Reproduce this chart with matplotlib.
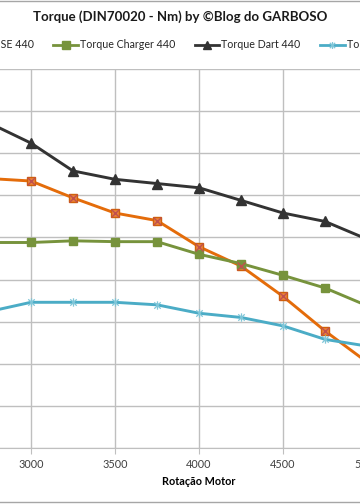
import numpy as np
import matplotlib
matplotlib.use("Agg")
import matplotlib.pyplot as plt
from matplotlib.path import Path
from matplotlib.lines import Line2D

plt.rcParams['font.family'] = ['Lato', 'DejaVu Sans']

# data
rpm = [2750, 3000, 3250, 3500, 3750, 4000, 4250, 4500, 4750, 5000]
torque_se = [620, 617, 597, 579, 570, 539, 516, 480, 439, 402]
torque_charger = [544, 544, 546, 545, 545, 530, 519, 505, 490, 469]
torque_dart = [686, 662, 629, 619, 614, 609, 594, 579, 569, 548]
torque_rt = [462, 473, 473, 473, 470, 460, 455, 445, 429, 421]

labels = ['Torque SE 440', 'Torque Charger 440', 'Torque Dart 440', 'Torque R/T 440']
x_ticks = [3000, 3500, 4000, 4500, 5000]
y_ticks = [300, 350, 400, 450, 500, 550, 600, 650, 700, 750]

W, H = 360, 504
fig = plt.figure(figsize=(W / 100, H / 100), dpi=100)
# plot area is wider than the picture (cropped view)
ax = fig.add_axes([-53 / W, 56 / H, 504 / W, 379 / H])

# asterisk marker (x plus vertical bar)
star = Path([(-1, -1), (1, 1), (-1, 1), (1, -1), (0, -1.3), (0, 1.3)],
            [Path.MOVETO, Path.LINETO, Path.MOVETO, Path.LINETO, Path.MOVETO, Path.LINETO])

orange = '#E46C0A'
green = '#77933C'
dark = '#333333'
cyan = '#4BACC6'

ax.plot(rpm, torque_se, color=orange, lw=2.1, marker='s', ms=6.2,
        mfc='#E9823A', mec='#D0600A', zorder=3)
ax.plot(rpm, torque_se, ls='none', marker='x', ms=5.2, mew=1.0, color='#C0504D', zorder=4)
ax.plot(rpm, torque_charger, color=green, lw=2.1, marker='s', ms=6.2,
        mfc=green, mec=green, zorder=3)
ax.plot(rpm, torque_dart, color=dark, lw=2.1, marker='^', ms=7,
        mfc=dark, mec=dark, zorder=3)
ax.plot(rpm, torque_rt, color=cyan, lw=2.1, marker=star, ms=6, mew=0.9,
        mfc='none', mec='#7FC6D8', zorder=3)

ax.set_xlim(2500, 5500)
ax.set_ylim(300, 750)
ax.set_xticks([2500, 5500], minor=True)
ax.set_xticks(x_ticks)
ax.set_yticks(y_ticks)
ax.grid(True, which='both', color='#BFBFBF', lw=1.0)
ax.set_axisbelow(True)
for s in ['top', 'right', 'left']:
    ax.spines[s].set_visible(False)
ax.spines['bottom'].set_color('#BFBFBF')
ax.tick_params(axis='x', which='both', direction='out', length=4, color='#BFBFBF',
               labelsize=7.8, labelcolor='#404040', pad=4)
ax.tick_params(axis='y', length=0, labelleft=False)
ax.set_xlabel('Rotação Motor', fontsize=7.8, fontweight='bold', labelpad=4)

fig.text(0.5, 1 - 17 / H, 'Torque (DIN70020 - Nm) by ©Blog do GARBOSO',
         ha='center', va='center', fontsize=9.5, fontweight='bold', color='#1a1a1a')

handles = [
    Line2D([], [], color=orange, lw=2.0, marker='s', ms=5.5, mfc='#E9823A', mec='#D0600A'),
    Line2D([], [], color=green, lw=2.0, marker='s', ms=5.5, mfc=green, mec=green),
    Line2D([], [], color=dark, lw=2.0, marker='^', ms=6, mfc=dark, mec=dark),
    Line2D([], [], color=cyan, lw=2.0, marker=star, ms=5, mew=0.9, mec='#7FC6D8'),
]
fig.legend(handles, labels, ncol=4, loc='center', bbox_to_anchor=(0.5, 1 - 45 / H),
           bbox_transform=fig.transFigure, frameon=False, fontsize=7.7,
           handlelength=2.3, handletextpad=0.2, columnspacing=1.8, borderpad=0,
           labelcolor='#262626')

# chart border lines (top and bottom of the chart frame)
fig.add_artist(Line2D([0, 1], [1 - 0.5 / H, 1 - 0.5 / H], transform=fig.transFigure,
                      color='#A6A6A6', lw=1.0))
fig.add_artist(Line2D([0, 1], [2 / H, 2 / H], transform=fig.transFigure,
                      color='#A6A6A6', lw=1.0))

fig.savefig('out.png', dpi=100)
